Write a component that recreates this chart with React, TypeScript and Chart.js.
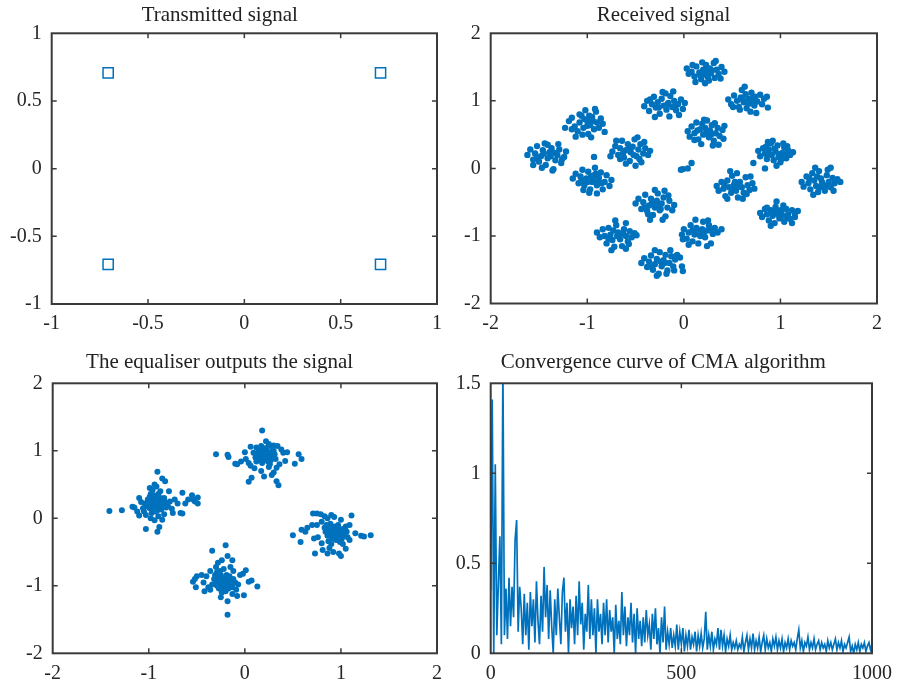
import React, { useEffect, useRef } from 'react';
import { Chart, registerables } from 'chart.js';

Chart.register(...registerables);

// ---------------- data ----------------
const TX_POINTS: number[][] = [
  [-0.707, 0.707], [0.707, 0.707], [-0.707, -0.707], [0.707, -0.707],
];

const RX_POINTS: number[][] = [
  [0.03,1.48],[0.08,1.43],[0.11,1.36],[0.13,1.51],[0.16,1.42],[0.18,1.32],[0.2,1.46],[0.21,1.39],[0.23,1.53],[0.24,1.44],[0.25,1.35],[0.27,1.48],[0.28,1.41],[0.31,1.56],[0.32,1.34],[0.34,1.46],[0.36,1.4],[0.39,1.5],[0.12,1.28],[0.22,1.26],[0.26,1.3],[0.09,1.53],[0.19,1.57],[0.33,1.59],[0.42,1.43],[0.17,1.38],[0.29,1.45],[0.05,1.4],[0.38,1.33],[0.24,1.48],
  [0.46,1.02],[0.49,0.95],[0.52,1.08],[0.55,1.0],[0.57,0.91],[0.59,1.05],[0.6,1.16],[0.62,0.98],[0.64,1.1],[0.65,0.89],[0.67,1.03],[0.68,0.96],[0.7,1.12],[0.71,1.0],[0.73,0.93],[0.74,1.06],[0.76,0.99],[0.79,1.09],[0.81,0.95],[0.83,1.03],[0.86,1.06],[0.87,0.9],[0.63,1.21],[0.58,0.87],[0.69,0.84],[0.75,0.82],[0.61,1.02],[0.66,0.97],[0.72,1.05],[0.51,0.91],
  [-0.41,0.92],[-0.38,1.0],[-0.36,0.85],[-0.33,0.95],[-0.31,1.06],[-0.29,0.9],[-0.27,0.98],[-0.25,0.81],[-0.23,1.03],[-0.21,0.93],[-0.19,1.11],[-0.18,0.87],[-0.16,0.97],[-0.14,1.07],[-0.12,0.91],[-0.1,1.0],[-0.08,0.86],[-0.06,0.95],[-0.03,1.02],[-0.01,0.88],[-0.05,0.79],[-0.15,0.77],[-0.3,0.76],[-0.22,1.13],[-0.11,1.14],[-0.26,0.9],[-0.17,0.95],[-0.09,0.93],[-0.35,1.02],[0.01,0.97],
  [-1.23,0.6],[-1.19,0.7],[-1.16,0.75],[-1.13,0.62],[-1.1,0.55],[-1.08,0.68],[-1.06,0.78],[-1.04,0.6],[-1.02,0.86],[-1.0,0.7],[-0.99,0.51],[-0.97,0.64],[-0.95,0.76],[-0.93,0.58],[-0.91,0.84],[-0.9,0.68],[-0.88,0.6],[-0.86,0.74],[-0.84,0.66],[-0.82,0.54],[-1.12,0.47],[-0.96,0.46],[-1.05,0.5],[-1.0,0.63],[-1.03,0.73],[-0.94,0.7],[-1.16,0.58],[-0.92,0.88],[-1.08,0.8],[-0.98,0.78],
  [0.04,0.55],[0.06,0.47],[0.08,0.62],[0.11,0.52],[0.13,0.68],[0.15,0.43],[0.17,0.58],[0.19,0.66],[0.2,0.5],[0.22,0.6],[0.24,0.71],[0.26,0.46],[0.27,0.56],[0.29,0.64],[0.31,0.41],[0.33,0.52],[0.35,0.6],[0.37,0.48],[0.4,0.57],[0.42,0.63],[0.3,0.34],[0.36,0.35],[0.18,0.36],[0.23,0.52],[0.14,0.56],[0.28,0.5],[0.32,0.67],[0.41,0.44],[0.11,0.42],[0.21,0.72],
  [-0.74,0.25],[-0.71,0.33],[-0.68,0.2],[-0.66,0.3],[-0.64,0.41],[-0.62,0.16],[-0.6,0.27],[-0.58,0.36],[-0.56,0.11],[-0.55,0.24],[-0.53,0.32],[-0.51,0.43],[-0.49,0.18],[-0.47,0.28],[-0.45,0.36],[-0.44,0.09],[-0.42,0.22],[-0.4,0.3],[-0.37,0.2],[-0.35,0.26],[-0.6,0.07],[-0.5,0.04],[-0.66,0.14],[-0.48,0.46],[-0.57,0.28],[-0.52,0.2],[-0.63,0.22],[-0.46,0.14],[-0.41,0.39],[-0.7,0.41],
  [-1.62,0.2],[-1.59,0.28],[-1.56,0.13],[-1.54,0.22],[-1.52,0.33],[-1.5,0.1],[-1.48,0.18],[-1.46,0.27],[-1.44,0.37],[-1.43,0.05],[-1.41,0.15],[-1.39,0.24],[-1.37,0.3],[-1.35,-0.01],[-1.33,0.12],[-1.31,0.2],[-1.29,0.28],[-1.27,0.08],[-1.24,0.17],[-1.22,0.25],[-1.47,0.01],[-1.36,-0.03],[-1.56,0.05],[-1.41,0.35],[-1.3,0.36],[-1.45,0.22],[-1.38,0.18],[-1.52,0.16],[-1.34,0.23],[-1.26,0.14],
  [0.77,0.26],[0.79,0.18],[0.82,0.3],[0.84,0.22],[0.86,0.14],[0.88,0.28],[0.9,0.37],[0.91,0.2],[0.93,0.12],[0.95,0.25],[0.97,0.34],[0.98,0.17],[1.0,0.09],[1.02,0.23],[1.04,0.31],[1.06,0.15],[1.08,0.27],[1.1,0.2],[1.13,0.24],[0.92,0.41],[1.03,0.37],[0.96,0.04],[0.87,0.39],[0.99,0.21],[1.05,0.2],[0.94,0.29],[1.01,0.14],[0.85,0.32],[1.07,0.33],[0.89,0.21],
  [-1.15,-0.15],[-1.12,-0.08],[-1.09,-0.22],[-1.07,-0.12],[-1.05,-0.02],[-1.03,-0.25],[-1.01,-0.15],[-0.99,-0.05],[-0.97,-0.31],[-0.95,-0.2],[-0.93,-0.1],[-0.92,0.01],[-0.9,-0.25],[-0.88,-0.14],[-0.86,-0.06],[-0.84,-0.31],[-0.82,-0.2],[-0.8,-0.1],[-0.77,-0.26],[-0.75,-0.17],[-0.98,-0.36],[-0.9,-0.37],[-1.04,-0.32],[-0.96,-0.12],[-0.94,-0.18],[-1.0,-0.2],[-0.88,-0.2],[-0.91,-0.08],[-1.06,-0.18],[-0.85,-0.22],
  [0.34,-0.26],[0.36,-0.33],[0.39,-0.2],[0.41,-0.3],[0.43,-0.41],[0.45,-0.18],[0.47,-0.28],[0.49,-0.36],[0.5,-0.11],[0.52,-0.24],[0.54,-0.33],[0.56,-0.43],[0.58,-0.2],[0.6,-0.28],[0.62,-0.36],[0.64,-0.13],[0.66,-0.25],[0.68,-0.32],[0.71,-0.22],[0.73,-0.3],[0.55,-0.07],[0.48,-0.04],[0.61,-0.45],[0.45,-0.45],[0.57,-0.27],[0.53,-0.2],[0.65,-0.38],[0.42,-0.24],[0.69,-0.12],[0.51,-0.3],
  [1.22,-0.2],[1.24,-0.27],[1.27,-0.12],[1.29,-0.22],[1.31,-0.31],[1.33,-0.07],[1.35,-0.18],[1.37,-0.26],[1.39,-0.35],[1.4,-0.04],[1.42,-0.15],[1.44,-0.24],[1.46,-0.33],[1.48,-0.1],[1.5,-0.2],[1.52,-0.28],[1.54,-0.14],[1.56,-0.22],[1.59,-0.16],[1.62,-0.2],[1.34,-0.39],[1.49,-0.02],[1.55,-0.33],[1.3,-0.15],[1.43,-0.2],[1.38,-0.12],[1.47,-0.26],[1.36,0.01],[1.52,0.01],[1.41,-0.28],
  [-0.5,-0.52],[-0.47,-0.45],[-0.44,-0.6],[-0.42,-0.5],[-0.4,-0.39],[-0.38,-0.63],[-0.36,-0.55],[-0.34,-0.45],[-0.32,-0.69],[-0.3,-0.58],[-0.28,-0.48],[-0.27,-0.37],[-0.25,-0.62],[-0.23,-0.52],[-0.21,-0.43],[-0.19,-0.71],[-0.17,-0.58],[-0.15,-0.48],[-0.12,-0.62],[-0.1,-0.54],[-0.35,-0.76],[-0.22,-0.76],[-0.3,-0.32],[-0.2,-0.33],[-0.27,-0.55],[-0.33,-0.52],[-0.24,-0.6],[-0.41,-0.58],[-0.16,-0.4],[-0.37,-0.68],
  [0.79,-0.66],[0.81,-0.72],[0.84,-0.6],[0.86,-0.68],[0.88,-0.77],[0.9,-0.62],[0.92,-0.7],[0.94,-0.81],[0.95,-0.57],[0.97,-0.66],[0.99,-0.74],[1.0,-0.62],[1.02,-0.7],[1.04,-0.79],[1.06,-0.6],[1.08,-0.68],[1.1,-0.75],[1.12,-0.62],[1.15,-0.66],[1.18,-0.63],[0.96,-0.49],[0.9,-0.85],[1.12,-0.81],[1.03,-0.55],[0.98,-0.69],[1.01,-0.66],[0.93,-0.65],[1.07,-0.72],[0.86,-0.58],[1.15,-0.72],
  [-0.9,-0.95],[-0.87,-1.02],[-0.84,-0.9],[-0.82,-1.0],[-0.8,-1.11],[-0.78,-0.88],[-0.76,-0.98],[-0.74,-1.06],[-0.72,-1.16],[-0.7,-0.84],[-0.68,-0.95],[-0.66,-1.05],[-0.64,-1.15],[-0.62,-0.9],[-0.6,-1.0],[-0.58,-1.08],[-0.56,-0.93],[-0.54,-1.02],[-0.51,-0.96],[-0.49,-0.99],[-0.71,-0.77],[-0.6,-0.81],[-0.75,-1.21],[-0.6,-1.19],[-0.69,-1.0],[-0.66,-0.98],[-0.73,-0.92],[-0.63,-0.96],[-0.78,-1.04],[-0.57,-1.12],
  [-0.02,-0.98],[0.0,-0.9],[0.03,-1.04],[0.05,-0.95],[0.07,-0.84],[0.09,-1.08],[0.11,-0.98],[0.13,-0.88],[0.15,-1.11],[0.17,-1.0],[0.19,-0.9],[0.2,-0.79],[0.22,-1.02],[0.24,-0.92],[0.26,-0.84],[0.28,-1.11],[0.3,-0.97],[0.32,-0.88],[0.35,-0.95],[0.39,-0.9],[0.12,-0.76],[0.25,-0.77],[0.05,-1.13],[0.24,-1.15],[0.17,-0.93],[0.14,-0.96],[0.21,-0.94],[0.09,-0.92],[0.28,-0.92],[-0.01,-1.05],
  [-0.44,-1.4],[-0.41,-1.33],[-0.38,-1.46],[-0.36,-1.38],[-0.34,-1.29],[-0.32,-1.5],[-0.3,-1.42],[-0.28,-1.34],[-0.26,-1.56],[-0.25,-1.24],[-0.23,-1.45],[-0.21,-1.36],[-0.19,-1.28],[-0.17,-1.51],[-0.15,-1.4],[-0.13,-1.3],[-0.11,-1.45],[-0.09,-1.35],[-0.07,-1.28],[-0.04,-1.32],[-0.02,-1.45],[-0.28,-1.59],[-0.18,-1.56],[-0.3,-1.21],[-0.2,-1.4],[-0.24,-1.38],[-0.14,-1.21],[-0.35,-1.45],[-0.1,-1.51],[-0.01,-1.52],
  [-0.93,0.17],[-0.01,-0.01],[-0.03,-0.02],[0.08,0.08],[0.72,0.08],[0.84,0.0],[-0.76,0.18],[0.04,0.0],
];

const EQ_POINTS: number[][] = [
  [-0.98,0.2],[-0.96,0.24],[-0.94,0.18],[-0.92,0.22],[-0.9,0.26],[-0.96,0.14],[-0.93,0.28],[-0.89,0.16],[-1.0,0.25],[-0.95,0.3],[-0.91,0.12],[-0.87,0.22],[-1.02,0.18],[-0.97,0.08],[-0.88,0.3],[-0.85,0.2],[-1.04,0.22],[-0.99,0.32],[-0.93,0.1],[-0.86,0.26],[-0.94,0.22],[-0.92,0.17],[-0.97,0.27],[-0.9,0.2],[-0.95,0.15],[-0.83,0.24],[-0.82,0.16],[-1.06,0.15],[-1.08,0.24],[-0.98,0.36],
  [-0.95,0.2],[-0.93,0.24],[-0.91,0.19],[-0.97,0.22],[-0.94,0.26],[-0.92,0.14],[-0.96,0.18],[-0.89,0.23],[-0.99,0.15],[-0.9,0.3],[-1.01,0.28],[-0.87,0.13],[-0.95,0.34],[-0.84,0.3],[-1.05,0.1],
  [-0.96,0.42],[-0.92,0.47],[-0.9,0.36],[-0.88,0.4],[-0.94,0.5],[-0.91,0.69],[-0.86,0.59],[-0.83,0.55],[-1.03,0.05],[-0.98,0.0],[-0.94,-0.03],[-0.9,0.03],[-0.86,-0.02],[-0.84,0.06],[-1.03,-0.16],[-0.91,-0.2],[-0.89,-0.13],[-0.8,0.18],[-0.78,0.25],[-0.76,0.14],[-0.73,0.28],[-0.7,0.22],[-0.67,0.08],[-0.65,0.07],[-0.65,0.38],[-0.62,0.22],[-0.59,0.28],[-0.55,0.34],[-0.54,0.28],[-0.49,0.31],[-0.49,0.22],[-0.52,0.25],[-1.1,0.3],[-1.12,0.1],[-1.15,0.16],[-1.17,0.17],[-1.28,0.12],[-1.41,0.11],[-1.1,0.04],[-0.79,0.4],[-0.75,0.08],[-0.99,0.45],
  [0.17,0.92],[0.19,0.96],[0.21,0.88],[0.23,0.94],[0.25,0.9],[0.2,1.0],[0.15,0.86],[0.27,0.98],[0.18,0.82],[0.24,0.84],[0.13,0.95],[0.29,0.9],[0.22,1.04],[0.16,1.02],[0.26,0.8],[0.2,0.93],[0.22,0.91],[0.18,0.89],[0.24,0.97],[0.11,0.9],[0.31,0.95],[0.14,0.98],[0.28,1.06],[0.12,0.84],
  [0.2,0.9],[0.22,0.95],[0.18,0.93],[0.24,0.88],[0.21,0.98],[0.16,0.9],[0.26,0.94],[0.19,0.86],[0.23,1.0],[0.27,0.86],[0.14,0.92],[0.3,1.0],[0.25,0.76],[0.17,1.07],[0.32,0.88],
  [0.18,1.3],[0.22,1.14],[0.25,1.1],[0.3,1.08],[0.34,1.07],[0.38,1.02],[0.4,0.97],[0.42,0.85],[0.36,0.8],[0.33,0.75],[0.3,0.68],[0.28,0.64],[0.33,0.55],[0.35,0.49],[0.2,0.62],[0.17,0.7],[0.1,0.74],[0.06,0.78],[0.04,0.54],[0.07,0.6],[0.04,0.82],[0.0,0.98],[0.01,0.88],[0.06,1.06],[-0.04,0.84],[-0.08,0.8],[-0.1,0.81],[-0.17,0.91],[-0.18,0.94],[-0.3,0.95],[0.56,0.95],[0.59,0.88],[0.52,0.81],[0.44,0.98],[0.12,1.05],[0.09,0.97],
  [0.9,-0.22],[0.92,-0.18],[0.94,-0.25],[0.96,-0.2],[0.98,-0.28],[0.88,-0.16],[1.0,-0.22],[0.93,-0.12],[0.95,-0.32],[1.02,-0.16],[0.86,-0.26],[1.04,-0.26],[0.97,-0.1],[0.91,-0.3],[1.06,-0.2],[0.84,-0.2],[0.99,-0.35],[0.95,-0.2],[0.93,-0.22],[1.01,-0.3],[0.89,-0.08],[1.05,-0.12],[0.87,-0.34],[0.97,-0.16],
  [0.94,-0.2],[0.96,-0.24],[0.92,-0.22],[0.98,-0.18],[0.95,-0.27],[0.91,-0.16],[1.0,-0.26],[0.93,-0.3],[0.97,-0.13],[1.03,-0.21],[0.88,-0.24],[1.07,-0.28],[0.9,-0.38],[1.02,-0.38],[0.85,-0.1],
  [0.71,0.07],[0.75,0.07],[0.79,0.06],[0.83,0.03],[0.86,0.0],[0.9,0.05],[0.93,0.02],[1.0,-0.02],[1.11,0.04],[0.8,-0.05],[0.75,-0.1],[0.7,-0.1],[0.65,-0.14],[0.63,-0.2],[0.59,-0.17],[0.5,-0.25],[0.58,-0.35],[0.72,-0.3],[0.76,-0.28],[0.73,-0.52],[0.81,-0.47],[0.86,-0.52],[0.88,-0.44],[0.92,-0.5],[0.98,-0.52],[1.0,-0.56],[1.05,-0.45],[1.09,-0.32],[1.15,-0.22],[1.21,-0.26],[1.24,-0.27],[1.31,-0.25],[1.09,-0.1],[0.8,-0.37],[0.83,-0.14],
  [-0.26,-0.94],[-0.24,-0.9],[-0.22,-0.97],[-0.2,-0.92],[-0.18,-0.98],[-0.28,-0.88],[-0.16,-0.9],[-0.23,-1.02],[-0.3,-0.96],[-0.19,-0.84],[-0.14,-0.96],[-0.25,-0.84],[-0.27,-1.04],[-0.21,-0.88],[-0.17,-1.04],[-0.32,-0.9],[-0.12,-0.9],[-0.22,-0.93],[-0.2,-1.08],[-0.26,-0.99],[-0.15,-1.0],[-0.29,-0.8],[-0.24,-1.1],[-0.34,-0.98],
  [-0.22,-0.95],[-0.2,-0.9],[-0.24,-0.97],[-0.21,-1.0],[-0.18,-0.94],[-0.25,-0.91],[-0.19,-1.02],[-0.27,-0.86],[-0.16,-0.86],[-0.23,-1.06],[-0.29,-1.0],[-0.13,-1.02],[-0.31,-0.84],[-0.26,-0.78],[-0.1,-0.95],
  [-0.2,-0.4],[-0.34,-0.48],[-0.24,-0.62],[-0.28,-0.66],[-0.18,-0.56],[-0.13,-0.62],[-0.3,-0.72],[-0.22,-0.75],[-0.15,-0.72],[-0.12,-0.78],[-0.36,-0.78],[-0.4,-0.86],[-0.45,-0.84],[-0.5,-0.86],[-0.52,-0.9],[-0.54,-0.94],[-0.51,-1.02],[-0.43,-0.95],[-0.38,-1.02],[-0.36,-1.06],[-0.05,-0.84],[-0.02,-0.82],[0.01,-0.77],[0.04,-0.94],[0.07,-0.92],[0.13,-1.01],[-0.01,-1.14],[-0.08,-1.15],[-0.13,-1.12],[-0.18,-1.23],[-0.18,-1.43],[-0.07,-0.98],[-0.09,-1.06],[-0.25,-1.17],[-0.42,-1.08],
];

// CMA error, one value every ITER_STEP iterations (0 .. 1000)
const ITER_STEP = 4;
const CMA_ERROR: number[] = [
  0.35,1.41,0.0,1.05,0.1,0.38,0.65,0.05,1.6,0.1,0.36,0.08,0.42,0.15,0.37,0.2,0.63,0.74,0.12,0.37,0.25,0.05,0.33,0.1,0.28,
  0.02,0.34,0.15,0.3,0.06,0.4,0.18,0.05,0.32,0.12,0.48,0.2,0.38,0.08,0.35,0.15,0.0,0.3,0.1,0.36,0.2,0.05,0.34,0.42,0.12,
  0.28,0.0,0.3,0.14,0.26,0.05,0.32,0.1,0.4,0.16,0.28,0.02,0.22,0.12,0.38,0.08,0.3,0.1,0.25,0.0,0.3,0.12,0.22,0.05,0.28,
  0.1,0.3,0.06,0.24,0.12,0.2,0.0,0.27,0.08,0.18,0.05,0.34,0.1,0.26,0.04,0.2,0.1,0.28,0.06,0.22,0.0,0.25,0.08,0.18,0.04,
  0.2,0.06,0.24,0.1,0.16,0.02,0.22,0.08,0.25,0.05,0.14,0.0,0.2,0.06,0.26,0.02,0.12,0.05,0.14,0.03,0.1,0.04,0.16,0.02,0.12,
  0.05,0.14,0.01,0.1,0.04,0.13,0.02,0.09,0.05,0.12,0.01,0.1,0.04,0.11,0.03,0.08,0.23,0.02,0.1,0.04,0.12,0.02,0.08,0.05,0.14,
  0.02,0.13,0.04,0.1,0.01,0.08,0.04,0.1,0.02,0.06,0.03,0.07,0.02,0.05,0.03,0.09,0.01,0.06,0.1,0.02,0.08,0.03,0.11,0.02,0.07,
  0.03,0.09,0.01,0.06,0.1,0.02,0.08,0.03,0.06,0.01,0.08,0.04,0.09,0.02,0.07,0.03,0.08,0.01,0.06,0.03,0.08,0.02,0.07,0.04,0.06,
  0.02,0.08,0.13,0.03,0.07,0.01,0.06,0.04,0.09,0.02,0.06,0.03,0.08,0.02,0.05,0.07,0.02,0.06,0.03,0.05,0.01,0.07,0.03,0.06,0.02,
  0.05,0.08,0.02,0.06,0.03,0.07,0.01,0.05,0.03,0.06,0.09,0.01,0.04,0.0,0.05,0.02,0.06,0.01,0.05,0.03,0.06,0.01,0.04,0.06,0.02,0.05,
];

const TX_TICKS = [-1, -0.5, 0, 0.5, 1];
const IQ_TICKS = [-2, -1, 0, 1, 2];
const ITER_TICKS = [0, 500, 1000];
const ERR_TICKS = [0, 0.5, 1, 1.5];

const TITLES = [
  'Transmitted signal',
  'Received signal',
  'The equaliser outputs the signal',
  'Convergence curve of CMA algorithm',
];

// ---------------- drawing ----------------
const FONT = "'Liberation Serif', 'Times New Roman', 'DejaVu Serif', serif";
const BLUE = '#0072BD';
const AXIS = '#3a3a3a';

const framePlugin = {
  id: 'matlabFrame',
  afterDraw(chart: any) {
    const { ctx, chartArea: a, scales } = chart;
    const L = 5;
    ctx.save();
    ctx.strokeStyle = AXIS;
    ctx.lineWidth = 1.5;
    ctx.beginPath();
    for (const t of scales.x.ticks) {
      const px = scales.x.getPixelForValue(t.value);
      if (px - a.left < 1 || a.right - px < 1) continue;
      ctx.moveTo(px, a.bottom); ctx.lineTo(px, a.bottom - L);
      ctx.moveTo(px, a.top); ctx.lineTo(px, a.top + L);
    }
    for (const t of scales.y.ticks) {
      const py = scales.y.getPixelForValue(t.value);
      if (py - a.top < 1 || a.bottom - py < 1) continue;
      ctx.moveTo(a.left, py); ctx.lineTo(a.left + L, py);
      ctx.moveTo(a.right, py); ctx.lineTo(a.right - L, py);
    }
    ctx.stroke();
    ctx.lineWidth = 2;
    ctx.strokeRect(a.left, a.top, a.right - a.left, a.bottom - a.top);
    ctx.restore();
  },
};

type PanelProps = {
  left: number; top: number; width: number; height: number;
  area: { l: number; r: number; t: number; b: number };
  title: string; titleCenter: number;
  datasets: any[];
  xr: number[]; yr: number[]; xt: number[]; yt: number[];
};

function Panel(p: PanelProps) {
  const ref = useRef<HTMLCanvasElement>(null);
  useEffect(() => {
    if (!ref.current) return;
    const titleLH = 21 * 1.2;
    const padTop = p.titleCenter - titleLH / 2;
    const padBottom = p.area.t - titleLH - padTop;
    const mkScale = (range: number[], ticks: number[], isX: boolean) => ({
      type: 'linear',
      min: range[0],
      max: range[1],
      grid: { display: false, drawTicks: false },
      border: { display: false },
      afterBuildTicks: (s: any) => { s.ticks = ticks.map((v) => ({ value: v })); },
      afterFit: (s: any) => {
        if (isX) s.height = p.height - p.area.b;
        else s.width = p.area.l;
      },
      ticks: {
        autoSkip: false,
        maxRotation: 0,
        padding: isX ? 8 : 10,
        color: '#262626',
        font: { family: FONT, size: 20 },
        callback: (v: any) => String(v),
      },
    });
    const chart = new Chart(ref.current, {
      type: 'scatter',
      data: { datasets: p.datasets },
      options: {
        animation: false,
        responsive: false,
        maintainAspectRatio: false,
        layout: { padding: { left: 0, top: 0, bottom: 0, right: p.width - p.area.r } },
        plugins: {
          legend: { display: false },
          tooltip: { enabled: false },
          title: {
            display: true,
            text: p.title,
            color: '#222222',
            font: { family: FONT, size: 21, weight: 'normal', lineHeight: 1.2 },
            padding: { top: padTop, bottom: padBottom },
          },
        },
        scales: {
          x: mkScale(p.xr, p.xt, true) as any,
          y: mkScale(p.yr, p.yt, false) as any,
        },
      },
      plugins: [framePlugin],
    });
    return () => chart.destroy();
  }, []);
  return (
    <canvas
      ref={ref}
      width={p.width}
      height={p.height}
      style={{ position: 'absolute', left: p.left, top: p.top, width: p.width, height: p.height }}
    />
  );
}

const toXY = (pts: number[][]) => pts.map(([x, y]) => ({ x, y }));

export default function App() {
  useEffect(() => {
    document.body.style.margin = '0';
    document.body.style.background = '#ffffff';
  }, []);

  const dot = { pointRadius: 3.2, pointBorderWidth: 0, pointBackgroundColor: BLUE, showLine: false };

  return (
    <div style={{ position: 'relative', width: 900, height: 688, background: '#fff', overflow: 'hidden' }}>
      <Panel
        left={0} top={0} width={450} height={340}
        area={{ l: 51.7, r: 439.5, t: 33.3, b: 304 }}
        title={TITLES[0]} titleCenter={15}
        xr={[-1, 1]} yr={[-1, 1]} xt={TX_TICKS} yt={TX_TICKS}
        datasets={[{
          data: toXY(TX_POINTS), pointStyle: 'rect', pointRadius: 7.2, pointBorderWidth: 1.5,
          pointBorderColor: BLUE, pointBackgroundColor: 'rgba(0,0,0,0)', showLine: false,
        }]}
      />
      <Panel
        left={450} top={0} width={450} height={340}
        area={{ l: 40.7, r: 427, t: 33.3, b: 303.5 }}
        title={TITLES[1]} titleCenter={15}
        xr={[-2, 2]} yr={[-2, 2]} xt={IQ_TICKS} yt={IQ_TICKS}
        datasets={[{ data: toXY(RX_POINTS), ...dot }]}
      />
      <Panel
        left={0} top={340} width={450} height={348}
        area={{ l: 52.7, r: 439.3, t: 43.3, b: 313.3 }}
        title={TITLES[2]} titleCenter={22.7}
        xr={[-2, 2]} yr={[-2, 2]} xt={IQ_TICKS} yt={IQ_TICKS}
        datasets={[{ data: toXY(EQ_POINTS), ...dot, pointRadius: 3.0 }]}
      />
      <Panel
        left={450} top={340} width={450} height={348}
        area={{ l: 40.7, r: 426.7, t: 43.3, b: 313.3 }}
        title={TITLES[3]} titleCenter={22.7}
        xr={[0, 1000]} yr={[0, 1.5]} xt={ITER_TICKS} yt={ERR_TICKS}
        datasets={[{
          data: CMA_ERROR.map((e, i) => ({ x: i * ITER_STEP, y: e })),
          showLine: true, borderColor: BLUE, borderWidth: 1.7, pointRadius: 0, tension: 0,
        }]}
      />
    </div>
  );
}
